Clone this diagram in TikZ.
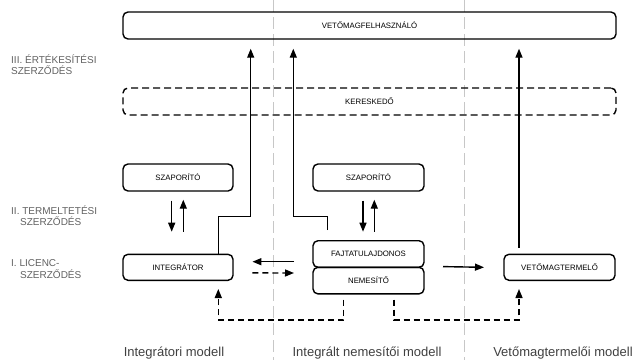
\documentclass[tikz,border=0pt]{standalone}
\usepackage{fontspec}
\setmainfont{Liberation Sans}
\usetikzlibrary{arrows.meta,calc}
\begin{document}
\begin{tikzpicture}[x=1pt,y=-1pt,
 box/.style={draw=black,line width=1.4pt,rounded corners=5pt,inner sep=0pt,font=\fontsize{7.8}{9}\selectfont},
 dbox/.style={box,dash pattern=on 7pt off 4pt},
 arr/.style={line width=1.4pt,-{Triangle[length=9pt,width=7pt]}},
 darr/.style={arr,dash pattern=on 6pt off 4pt},
 sep/.style={draw=black!22,line width=1pt,dash pattern=on 12pt off 5pt},
 lvl/.style={anchor=base west,inner sep=0pt,text=black!62,font=\fontsize{10}{11}\selectfont},
 model/.style={anchor=base,inner sep=0pt,text=black!75,font=\fontsize{13}{15}\selectfont}]
\useasboundingbox (0,0) rectangle (634,360);
% separators
\draw[sep] (273,0) -- (273,360);
\draw[sep] (464.7,0) -- (464.7,360);
% boxes
\node[box,minimum width=493pt,minimum height=27pt] (user) at (369.5,25.5) {VETŐMAGFELHASZNÁLÓ};
\node[dbox,minimum width=493pt,minimum height=27pt] (trader) at (369.5,101.5) {KERESKEDŐ};
\node[box,minimum width=110pt,minimum height=27pt] (szap1) at (178,177.5) {SZAPORÍTÓ};
\node[box,minimum width=111pt,minimum height=27pt] (szap2) at (368.5,177.5) {SZAPORÍTÓ};
\node[box,minimum width=110pt,minimum height=26pt] (integ) at (178,267.3) {INTEGRÁTOR};
\node[box,minimum width=111pt,minimum height=26.6pt] (fajta) at (368.5,254) {FAJTATULAJDONOS};
\node[box,minimum width=111pt,minimum height=26.6pt] (nemes) at (368.5,280.6) {NEMESÍTŐ};
\node[box,minimum width=111pt,minimum height=26pt] (vetom) at (559.5,267.3) {VETŐMAGTERMELŐ};
% up arrows to user
\draw[arr] ([xshift=40.3pt]integ.north) |- (250.7,216.7) -- ([xshift=-118.8pt,yshift=-9pt]user.south);
\draw[arr] ([xshift=-41.2pt,yshift=10pt]fajta.north) |- (293.3,216.7) -- ([xshift=-76.2pt,yshift=-9pt]user.south);
\draw[arr] ([xshift=-40.5pt,yshift=6pt]vetom.north) -- ([xshift=149.5pt,yshift=-9pt]user.south);
% szaporito arrows
\draw[arr] ([xshift=-6.3pt,yshift=-9pt]szap1.south) -- ([xshift=-6.3pt,yshift=-40pt]szap1.south);
\draw[arr] ([xshift=5.3pt,yshift=-40pt]szap1.south) -- ([xshift=5.3pt,yshift=-8pt]szap1.south);
\draw[arr] ([xshift=-5.5pt,yshift=-9pt]szap2.south) -- ([xshift=-5.5pt,yshift=-40pt]szap2.south);
\draw[arr] ([xshift=5.8pt,yshift=-40pt]szap2.south) -- ([xshift=5.8pt,yshift=-8pt]szap2.south);
% horizontal arrows
\draw[arr] ([xshift=-18.3pt,yshift=-7.7pt]fajta.west) -- ([xshift=18.7pt,yshift=5.6pt]integ.east);
\draw[darr] ([xshift=18.7pt,yshift=-5.6pt]integ.east) -- ([xshift=-18.3pt,yshift=-19pt]fajta.west);
\draw[arr] ([xshift=18.3pt]nemes.north east) -- ([xshift=-19.3pt]vetom.west);
% dashed bottom arrows
\draw[darr] ([xshift=-25.2pt,yshift=-5pt]nemes.south) |- (218.3,320) -- ([xshift=40.3pt,yshift=-8pt]integ.south);
\draw[darr] ([xshift=25.5pt,yshift=-5pt]nemes.south) |- (519,320) -- ([xshift=-40.5pt,yshift=-8pt]vetom.south);
% level labels
\node[lvl] (l3a) at (11,63.3) {III. ÉRTÉKESÍTÉSI};
\node[lvl] (l3b) at (11,74) {SZERZŐDÉS};
\node[lvl] (l2a) at (11,214) {II. TERMELTETÉSI};
\node[lvl] (l2b) at (20,225.7) {SZERZŐDÉS};
\node[lvl] (l1a) at (11,266) {I. LICENC-};
\node[lvl] (l1b) at (20,278.3) {SZERZŐDÉS};
% model labels
\node[model] (m1) at (174,356) {Integrátori modell};
\node[model] (m2) at (367,356) {Integrált nemesítői modell};
\node[model] (m3) at (563,356) {Vetőmagtermelői modell};
\end{tikzpicture}
\end{document}
